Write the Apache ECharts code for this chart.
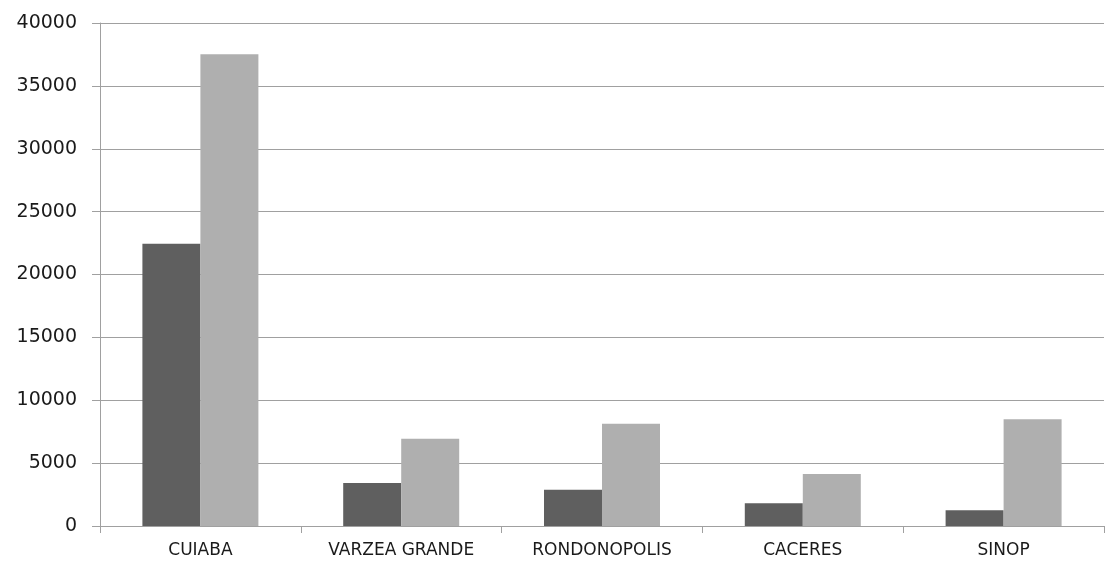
<!DOCTYPE html>
<html><head><meta charset="utf-8">
<script src="https://cdn.jsdelivr.net/npm/echarts@6/dist/echarts.min.js"></script>
<style>html,body{margin:0;padding:0;background:#fff}#c{width:1108px;height:562px}</style>
</head><body><div id="c"></div>
<script>
const categories = ['CUIABA', 'VARZEA GRANDE', 'RONDONOPOLIS', 'CACERES', 'SINOP'];
const seriesA = [22450, 3410, 2880, 1810, 1250];
const seriesB = [37520, 6930, 8130, 4130, 8480];
const yTicks = [0, 5000, 10000, 15000, 20000, 25000, 30000, 35000, 40000];

const chart = echarts.init(document.getElementById('c'));
chart.setOption({
  animation: false,
  grid: {left: 100, right: 4, top: 23, bottom: 36, containLabel: false},
  xAxis: {
    type: 'category', data: categories,
    axisLine: {lineStyle: {color: '#a0a0a0', width: 1}},
    axisTick: {show: true, length: 7, lineStyle: {color: '#a0a0a0'}},
    axisLabel: {color: '#1a1a1a', fontFamily: 'DejaVu Sans', fontSize: 17, margin: 16}
  },
  yAxis: {
    type: 'value', min: yTicks[0], max: yTicks[yTicks.length - 1], interval: 5000,
    axisLine: {show: true, lineStyle: {color: '#a0a0a0', width: 1}},
    axisTick: {show: true, length: 8, lineStyle: {color: '#a0a0a0'}},
    splitLine: {lineStyle: {color: '#a0a0a0', width: 1}},
    axisLabel: {color: '#1a1a1a', fontFamily: 'DejaVu Sans', fontSize: 19, margin: 23,
      padding: [4, 0, 0, 0], formatter: v => String(v)}
  },
  series: [
    {type: 'bar', data: seriesA, barWidth: 58, barGap: '0%', itemStyle: {color: '#5f5f5f'}},
    {type: 'bar', data: seriesB, barWidth: 58, barGap: '0%', itemStyle: {color: '#afafaf'}}
  ]
});
</script></body></html>
